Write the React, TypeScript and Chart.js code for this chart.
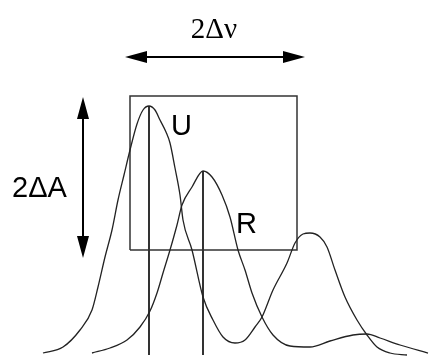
import React, { useEffect, useRef } from "react";
import { Chart, registerables } from "chart.js";

Chart.register(...registerables);

// Curve U (taller, leftmost peak) — frequency vs amplitude
const curveUX = [43, 63, 80, 92, 98, 105, 112, 118, 124, 130, 137, 143, 149, 155, 160, 166, 170, 175, 180, 183, 192, 203, 213, 223, 235, 245, 255, 262, 273, 287, 295, 303, 310, 320, 327, 335, 345, 357, 367, 377, 390, 407];
const curveUY = [3, 9, 26, 46, 69, 99, 126, 156, 181, 206, 232, 246, 250, 246, 236, 224, 213, 188, 161, 136, 106, 59, 36, 19, 13, 16, 29, 39, 66, 93, 113, 122, 123, 119, 109, 86, 59, 36, 21, 9, 3, 1];

// Curve R (shifted, lower peak)
const curveRX = [92, 110, 127, 140, 150, 157, 163, 170, 177, 182, 192, 203, 212, 222, 230, 238, 245, 252, 262, 273, 290, 310, 330, 353, 367, 380, 400, 428];
const curveRY = [3, 8, 16, 29, 45, 63, 83, 106, 131, 151, 169, 185, 179, 161, 139, 106, 86, 63, 39, 21, 10, 9, 15, 21, 22, 18, 11, 3];

// Peak markers
const peakX = [149, 203];
const peakY = [250, 185];
const baseY = 1;

// Box 2Δν × 2ΔA
const boxX = [130, 297];
const boxY = [106, 260];

// Arrows
const deltaNuArrow = { x: [125, 305], y: 299 };
const deltaAArrow = { x: 83, y: [259, 98] };

// Labels
const labelTexts = ["2Δν", "2ΔA", "U", "R"];
const labelX = [214, 12, 171, 236];
const labelY = [318, 159, 221, 123];

const toPts = (xs: number[], ys: number[]) => xs.map((x, i) => ({ x, y: ys[i] }));

export default function App() {
  const ref = useRef<HTMLCanvasElement | null>(null);

  useEffect(() => {
    if (!ref.current) return;

    const annotations = {
      id: "annotations",
      afterDatasetsDraw(chart: any) {
        const ctx = chart.ctx as CanvasRenderingContext2D;
        const xs = chart.scales.x;
        const ys = chart.scales.y;
        const px = (v: number) => xs.getPixelForValue(v);
        const py = (v: number) => ys.getPixelForValue(v);
        const headL = 22;
        const headW = 6;
        ctx.save();
        ctx.strokeStyle = "#000";
        ctx.fillStyle = "#000";
        ctx.lineWidth = 2;

        // horizontal arrow
        const hx0 = px(deltaNuArrow.x[0]);
        const hx1 = px(deltaNuArrow.x[1]);
        const hy = py(deltaNuArrow.y);
        ctx.beginPath();
        ctx.moveTo(hx0 + headL - 2, hy);
        ctx.lineTo(hx1 - headL + 2, hy);
        ctx.stroke();
        ctx.beginPath();
        ctx.moveTo(hx0, hy);
        ctx.lineTo(hx0 + headL, hy - headW);
        ctx.lineTo(hx0 + headL, hy + headW);
        ctx.closePath();
        ctx.fill();
        ctx.beginPath();
        ctx.moveTo(hx1, hy);
        ctx.lineTo(hx1 - headL, hy - headW);
        ctx.lineTo(hx1 - headL, hy + headW);
        ctx.closePath();
        ctx.fill();

        // vertical arrow
        const vx = px(deltaAArrow.x);
        const vy0 = py(deltaAArrow.y[0]);
        const vy1 = py(deltaAArrow.y[1]);
        ctx.beginPath();
        ctx.moveTo(vx, vy0 + headL - 2);
        ctx.lineTo(vx, vy1 - headL + 2);
        ctx.stroke();
        ctx.beginPath();
        ctx.moveTo(vx, vy0);
        ctx.lineTo(vx - headW, vy0 + headL);
        ctx.lineTo(vx + headW, vy0 + headL);
        ctx.closePath();
        ctx.fill();
        ctx.beginPath();
        ctx.moveTo(vx, vy1);
        ctx.lineTo(vx - headW, vy1 - headL);
        ctx.lineTo(vx + headW, vy1 - headL);
        ctx.closePath();
        ctx.fill();

        // labels
        ctx.textBaseline = "alphabetic";
        labelTexts.forEach((t, i) => {
          if (i === 0) {
            ctx.font = "29px 'Liberation Serif', serif";
            ctx.textAlign = "center";
          } else {
            ctx.font = "29px 'Liberation Sans', Arial, sans-serif";
            ctx.textAlign = "left";
          }
          ctx.fillText(t, px(labelX[i]), py(labelY[i]));
        });
        ctx.restore();
      },
    };

    const chart = new Chart(ref.current, {
      type: "scatter",
      data: {
        datasets: [
          {
            data: toPts(curveUX, curveUY),
            showLine: true,
            borderColor: "#222",
            borderWidth: 1.3,
            pointRadius: 0,
            tension: 0.4,
            cubicInterpolationMode: "monotone",
          },
          {
            data: toPts(curveRX, curveRY),
            showLine: true,
            borderColor: "#222",
            borderWidth: 1.3,
            pointRadius: 0,
            tension: 0.4,
            cubicInterpolationMode: "monotone",
          },
          {
            data: [
              { x: boxX[0], y: boxY[0] },
              { x: boxX[1], y: boxY[0] },
              { x: boxX[1], y: boxY[1] },
              { x: boxX[0], y: boxY[1] },
              { x: boxX[0], y: boxY[0] },
            ],
            showLine: true,
            borderColor: "#333",
            borderWidth: 1.5,
            pointRadius: 0,
            tension: 0,
          },
          ...peakX.map((x, i) => ({
            data: [
              { x, y: peakY[i] },
              { x, y: baseY },
            ],
            showLine: true,
            borderColor: "#000",
            borderWidth: 1.6,
            pointRadius: 0,
            tension: 0,
          })),
        ],
      },
      options: {
        animation: false,
        responsive: false,
        devicePixelRatio: 1,
        layout: { padding: 0 },
        plugins: { legend: { display: false }, tooltip: { enabled: false } },
        events: [],
        scales: {
          x: { type: "linear", min: 0, max: 430, display: false },
          y: { type: "linear", min: 0, max: 356, display: false },
        },
      },
      plugins: [annotations],
    } as any);

    return () => chart.destroy();
  }, []);

  return (
    <div style={{ position: "fixed", left: 0, top: 0, width: 430, height: 356, background: "#fff" }}>
      <canvas ref={ref} width={430} height={356} />
    </div>
  );
}
